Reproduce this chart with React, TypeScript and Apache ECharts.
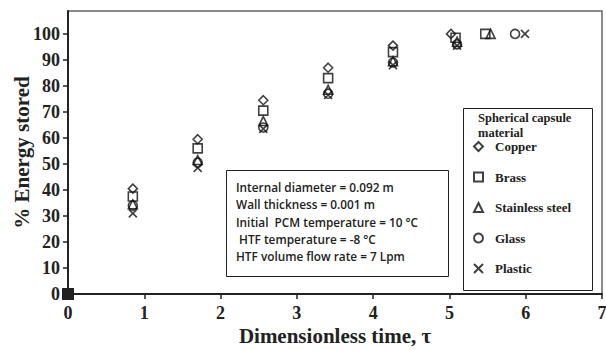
import React, { useEffect, useRef } from "react";
import * as echarts from "echarts";

const seriesNames = ["Copper", "Brass", "Stainless steel", "Glass", "Plastic"];
const copperTime = [0, 0.85, 1.7, 2.56, 3.41, 4.26, 5.02];
const copperValues = [0, 40.5, 59.5, 74.5, 87, 95.5, 100];
const brassTime = [0, 0.85, 1.7, 2.56, 3.41, 4.26, 5.08, 5.47];
const brassValues = [0, 37.5, 56, 70.5, 83, 93, 98.5, 100];
const stainlessTime = [0, 0.85, 1.7, 2.56, 3.41, 4.26, 5.1, 5.54];
const stainlessValues = [0, 34.5, 51.5, 66.5, 78.5, 89.5, 97, 100];
const glassTime = [0, 0.85, 1.7, 2.56, 3.41, 4.26, 5.1, 5.86];
const glassValues = [0, 34, 50.5, 64, 77, 89, 96, 100];
const plasticTime = [0, 0.85, 1.7, 2.56, 3.41, 4.26, 5.1, 5.99];
const plasticValues = [0, 31, 48.5, 63.5, 76.5, 88, 95.5, 100];
const xTicks = [0, 1, 2, 3, 4, 5, 6, 7];
const yTicks = [0, 10, 20, 30, 40, 50, 60, 70, 80, 90, 100];
const infoLines = [
  "Internal diameter = 0.092 m",
  "Wall thickness = 0.001 m",
  "Initial  PCM temperature = 10 \u00B0C",
  " HTF temperature = -8 \u00B0C",
  "HTF volume flow rate = 7 Lpm",
];

const X_PATH = "path://M0,0 L10,10 M10,0 L0,10";
const symbols = ["diamond", "rect", "triangle", "circle", X_PATH];
const sizes = [9, 9, 9, 9, 8];

export default function App() {
  const ref = useRef<HTMLDivElement>(null);
  useEffect(() => {
    if (!ref.current) return;
    const chart = echarts.init(ref.current, undefined, { renderer: "svg" });
    const times = [copperTime, brassTime, stainlessTime, glassTime, plasticTime];
    const vals = [copperValues, brassValues, stainlessValues, glassValues, plasticValues];
    const serif = "'Liberation Serif', 'DejaVu Serif', serif";
    const series: any[] = seriesNames.map((name, i) => ({
      name,
      type: "scatter",
      symbol: symbols[i],
      symbolSize: sizes[i],
      itemStyle: { color: "rgba(0,0,0,0)", borderColor: "#111", borderWidth: 1.6 },
      data: times[i].map((t, k) =>
        k === 0
          ? { value: [t, vals[i][k]], symbol: "rect", symbolSize: 10, itemStyle: { color: "#222", borderColor: "#222" } }
          : [t, vals[i][k]]
      ),
      z: 5,
    }));
    const graphics: any[] = [
      {
        type: "rect",
        shape: { x: 463.5, y: 108.5, width: 129, height: 182 },
        style: { fill: "#fff", stroke: "#222", lineWidth: 1 },
        z: 1,
      },
      {
        type: "text",
        x: 478,
        y: 110,
        style: {
          text: "Spherical capsule\nmaterial",
          font: `bold 12.5px ${serif}`,
          fill: "#222",
          lineHeight: 15,
        },
        z: 2,
      },
      {
        type: "rect",
        shape: { x: 226.5, y: 170.5, width: 222, height: 106 },
        style: { fill: "#fff", stroke: "#222", lineWidth: 1 },
        z: 1,
      },
      ...infoLines.map((line, i) => ({
        type: "text",
        x: 236,
        y: 181 + i * 17.3,
        style: {
          text: line,
          font: "600 11.8px 'Open Sans', sans-serif",
          fill: "#222",
        },
        z: 2,
      })),
    ];
    chart.setOption({
      animation: false,
      backgroundColor: "#fff",
      grid: {
        left: 68,
        right: 4,
        top: 11,
        bottom: 56,
        show: true,
        borderColor: "#666",
        borderWidth: 1.5,
        containLabel: false,
        outerBoundsMode: "none",
      },
      xAxis: {
        type: "value",
        min: xTicks[0],
        max: xTicks[xTicks.length - 1],
        interval: 1,
        name: "Dimensionless time, \u03C4",
        nameLocation: "middle",
        nameGap: 31,
        nameMoveOverlap: false,
        nameTextStyle: { fontFamily: serif, fontWeight: "bold", fontSize: 21, color: "#222" },
        axisLine: { show: true, lineStyle: { color: "#222", width: 2 } },
        axisTick: { show: true, inside: false, length: 5, lineStyle: { color: "#222", width: 1.5 } },
        axisLabel: { fontFamily: serif, fontWeight: "bold", fontSize: 18, color: "#222", margin: 10 },
        splitLine: { show: false },
      },
      yAxis: {
        type: "value",
        min: yTicks[0],
        max: 108.8,
        interval: 10,
        name: "% Energy stored",
        nameLocation: "middle",
        nameGap: 36,
        nameMoveOverlap: false,
        nameTextStyle: { fontFamily: serif, fontWeight: "bold", fontSize: 21, color: "#222" },
        axisLine: { show: true, lineStyle: { color: "#222", width: 2 } },
        axisTick: { show: true, inside: false, length: 5, lineStyle: { color: "#222", width: 1.5 } },
        axisLabel: {
          fontFamily: serif,
          fontWeight: "bold",
          fontSize: 18,
          color: "#222",
          margin: 8,
          showMaxLabel: false,
          formatter: (v: number) => (yTicks.includes(v) ? String(v) : ""),
        },
        splitLine: { show: false },
      },
      legend: {
        data: seriesNames,
        orient: "vertical",
        left: 468,
        top: 135,
        itemWidth: 9,
        itemHeight: 9,
        itemGap: 17.5,
        textStyle: {
          fontFamily: serif,
          fontWeight: "bold",
          fontSize: 13,
          color: "#222",
          padding: [0, 0, 0, 7],
        },
        itemStyle: { color: "rgba(0,0,0,0)", borderColor: "#111", borderWidth: 2 },
        z: 3,
      },
      graphic: graphics,
      series,
    });
    return () => chart.dispose();
  }, []);
  return (
    <div
      ref={ref}
      style={{ position: "fixed", left: 0, top: 0, width: 606, height: 350, background: "#fff" }}
    />
  );
}
